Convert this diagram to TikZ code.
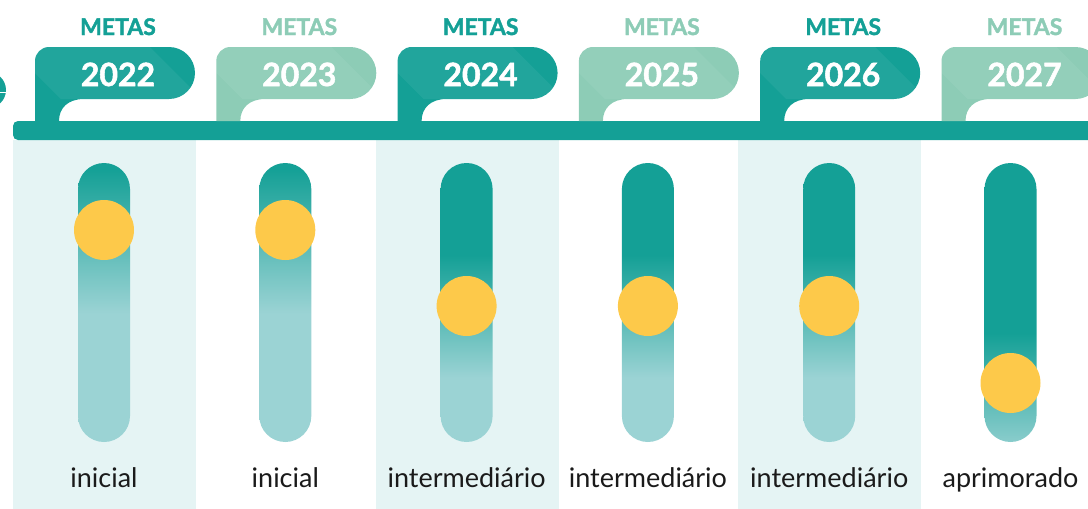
\documentclass[tikz,border=0pt]{standalone}
\usepackage{fontspec}
\setmainfont{Lato}
\newfontfamily\heavyfont{Lato}[BoldFeatures={FakeBold=1.6}]
\usetikzlibrary{math}

\definecolor{tealdark}{HTML}{14A096}
\definecolor{teallight}{HTML}{8DCCB6}
\definecolor{slidelight}{HTML}{9BD3D4}
\definecolor{knobyellow}{HTML}{FDC94A}
\definecolor{colshade}{HTML}{E5F4F4}
\definecolor{labeltext}{HTML}{1A1A1A}

% slider fills, knob high / mid / low
\pgfdeclareverticalshading{slidehigh}{100bp}{color(0bp)=(slidelight); color(48bp)=(slidelight);
  color(74bp)=(tealdark); color(100bp)=(tealdark)}
\pgfdeclareverticalshading{slidemid}{100bp}{color(0bp)=(slidelight); color(36.5bp)=(slidelight);
  color(58.5bp)=(tealdark); color(100bp)=(tealdark)}
\pgfdeclareverticalshading{slidelow}{100bp}{color(0bp)=(slidelight); color(22bp)=(slidelight);
  color(44.5bp)=(tealdark); color(100bp)=(tealdark)}

\tikzset{
  metaslabel/.style={anchor=base, inner sep=0pt, font=\fontsize{23}{26}\selectfont\heavyfont\bfseries},
  yearlabel/.style={anchor=base, inner sep=0pt, text=white, font=\fontsize{32}{36}\selectfont\heavyfont\bfseries},
  levellabel/.style={anchor=base, inner sep=0pt, text=labeltext, font=\fontsize{27}{30}\selectfont}
}

\begin{document}
\begin{tikzpicture}[x=1pt, y=-1pt]
  \tikzmath{\w = 181.3;}
  \useasboundingbox (0,0) rectangle (1088,509);
  \foreach \i in {0,2,4}
    \fill[colshade] (13+\i*\w, 140) rectangle ++(183, 369);

  \fill[tealdark, rounded corners=5pt] (13,121) rectangle (1110,140);
  \fill[tealdark] (-12,90) circle[radius=18pt];
  \draw[white, line width=0.8pt] (-12,92) -- (6,92);

  \foreach \yr/\lvl/\ky/\tc/\sh [count=\i from 0] in
    {2022/inicial/230/tealdark/slidehigh, 2023/inicial/230/teallight/slidehigh,
     2024/intermediário/306/tealdark/slidemid, 2025/intermediário/306/teallight/slidemid,
     2026/intermediário/306/tealdark/slidemid, 2027/aprimorado/383/teallight/slidelow}{
    \tikzmath{\tx = 35 + \i*\w; \cx = 104 + \i*\w;}
    % tag
    \begin{scope}
      \fill[\tc] (\tx,121) -- (\tx,61) arc[start angle=180, end angle=270, radius=14]
        -- (\tx+134,47) arc[start angle=270, end angle=450, radius=26]
        -- (\tx+49,99) .. controls (\tx+33,99) and (\tx+24,108) .. (\tx+24,121) -- cycle;
      \clip (\tx,47) rectangle (\tx+160,99);
      \fill[white, opacity=0.06] (\tx,47) -- (\tx,73) -- (\tx+26,99) -- (\tx+167,99) -- (\tx+115,47) -- cycle;
    \end{scope}
    \node[metaslabel, text=\tc] (metas\i) at (\tx+83,35) {METAS};
    \node[yearlabel] (year\i) at (\tx+83,86) {\yr};
    % slider
    \shade[shading=\sh, rounded corners=26pt] (\cx-26,163) rectangle (\cx+26,442);
    \fill[knobyellow] (\cx,\ky) circle[radius=30pt];
    \node[levellabel] (level\i) at (\cx,487) {\lvl};
  }
\end{tikzpicture}
\end{document}
